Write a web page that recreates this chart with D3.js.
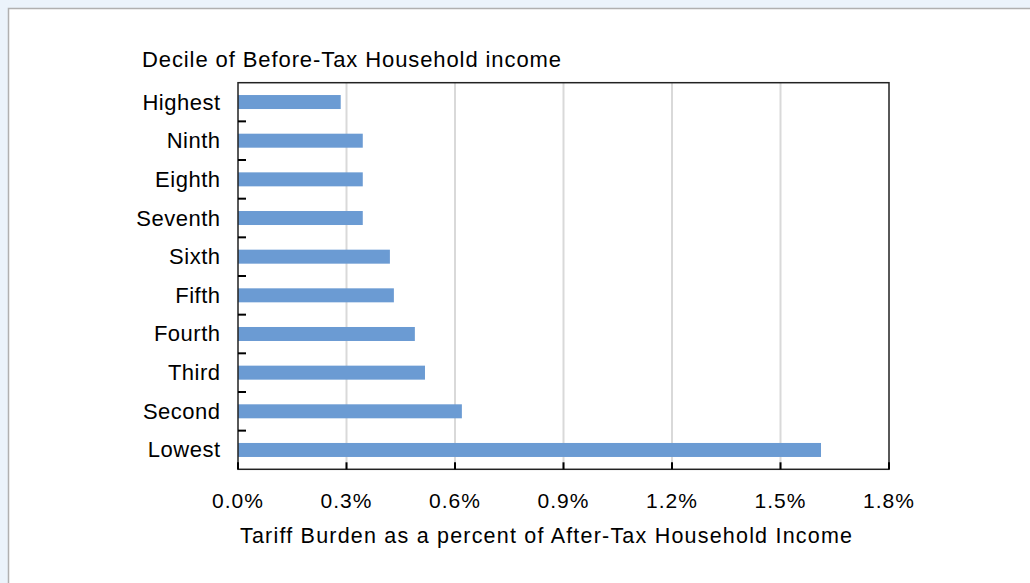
<!DOCTYPE html>
<html><head><meta charset="utf-8">
<script src="https://cdn.jsdelivr.net/npm/d3@7"></script>
<style>
html,body{margin:0;padding:0;background:#ebf3fb;}
svg{display:block;}
text{font-family:"Liberation Sans",Arial,sans-serif;fill:#000;}
</style></head><body>
<svg id="c" width="1030" height="583"></svg>
<script>
const categories = ["Highest","Ninth","Eighth","Seventh","Sixth","Fifth","Fourth","Third","Second","Lowest"];
const values = [0.284,0.345,0.345,0.345,0.42,0.431,0.489,0.517,0.619,1.612];
const tickValues = [0,0.3,0.6,0.9,1.2,1.5,1.8];
const tickLabels = ["0.0%","0.3%","0.6%","0.9%","1.2%","1.5%","1.8%"];
const yTitle = "Decile of Before-Tax Household income";
const xTitle = "Tariff Burden as a percent of After-Tax Household Income";

const svg = d3.select("#c");
// panel
svg.append("rect").attr("x",8.5).attr("y",8.5).attr("width",1030).attr("height",600)
  .attr("fill","#fff").attr("stroke","#b0b0b0").attr("stroke-width",1.5);

const L=238, R=889, T=82.7, B=469.3;
const x = d3.scaleLinear().domain([0,1.8]).range([L,R]);
const y = d3.scaleBand().domain(categories).range([T,B]).paddingInner(0).paddingOuter(0);
const barH = 14;

// gridlines
svg.append("g").selectAll("line").data(tickValues.slice(1,-1)).join("line")
  .attr("x1",d=>x(d)).attr("x2",d=>x(d)).attr("y1",T).attr("y2",B)
  .attr("stroke","#d9d9d9").attr("stroke-width",2);

// bars
svg.append("g").selectAll("rect").data(categories).join("rect")
  .attr("x",x(0)).attr("y",(d)=>y(d)+y.bandwidth()/2-barH/2)
  .attr("width",(d,i)=>x(values[i])-x(0)).attr("height",barH)
  .attr("fill","#6b9bd3");

// plot border
svg.append("rect").attr("x",L).attr("y",T).attr("width",R-L).attr("height",B-T)
  .attr("fill","none").attr("stroke","#222").attr("stroke-width",1.5);

// x ticks (inside)
svg.append("g").selectAll("line").data(tickValues).join("line")
  .attr("x1",d=>x(d)).attr("x2",d=>x(d)).attr("y1",B).attr("y2",B-7)
  .attr("stroke","#000").attr("stroke-width",2);
// y ticks at band boundaries (inside)
svg.append("g").selectAll("line").data(categories.slice(1)).join("line")
  .attr("x1",L).attr("x2",L+8).attr("y1",d=>y(d)).attr("y2",d=>y(d))
  .attr("stroke","#000").attr("stroke-width",2);

// x tick labels
svg.append("g").selectAll("text").data(tickValues).join("text")
  .attr("x",d=>x(d)).attr("y",508).attr("text-anchor","middle")
  .style("font-size","21px").style("letter-spacing","1px")
  .text((d,i)=>tickLabels[i]);

// category labels
svg.append("g").selectAll("text").data(categories).join("text")
  .attr("x",220.5).attr("y",d=>y(d)+y.bandwidth()/2+7.5).attr("text-anchor","end")
  .style("font-size","22px").style("letter-spacing","0.5px").text(d=>d);

svg.append("text").attr("x",142).attr("y",67).style("font-size","22px")
  .attr("textLength",419).attr("lengthAdjust","spacing").text(yTitle);
svg.append("text").attr("x",240).attr("y",543).style("font-size","21.5px")
  .attr("textLength",612).attr("lengthAdjust","spacing").text(xTitle);
</script></body></html>
